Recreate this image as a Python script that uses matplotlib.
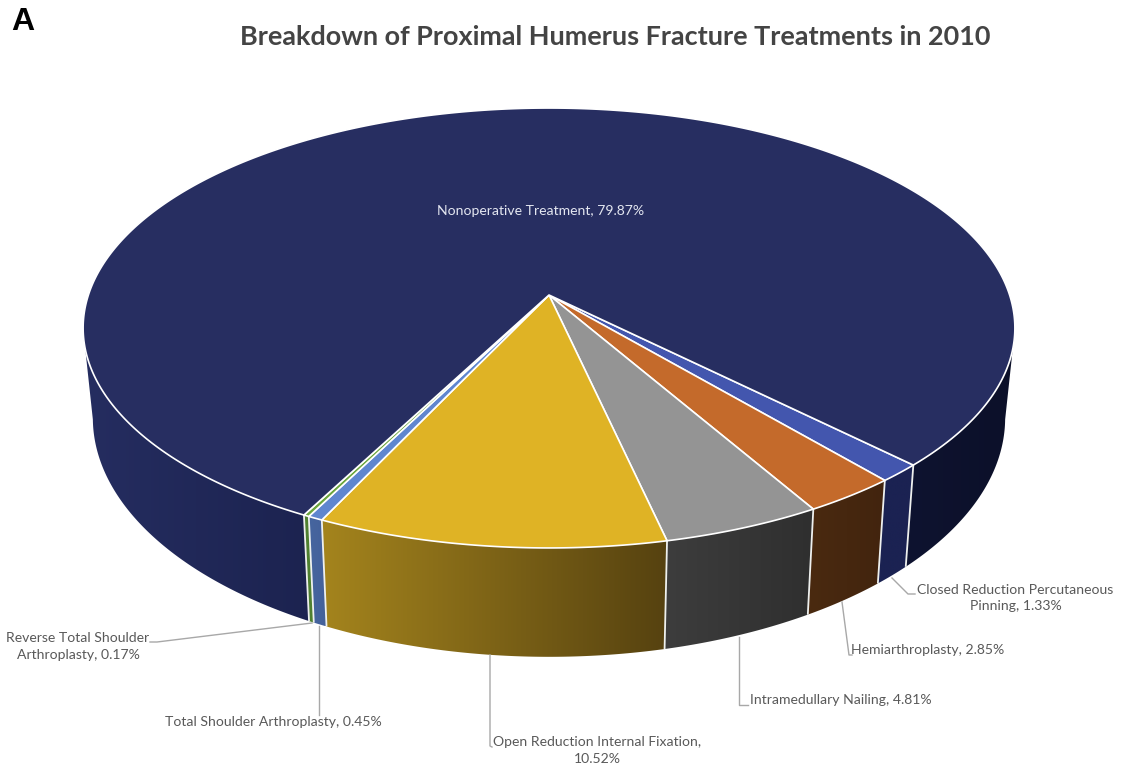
import numpy as np
import matplotlib
matplotlib.use("Agg")
import matplotlib.pyplot as plt
from matplotlib.colors import to_rgb
from matplotlib.patches import Polygon

# Treatment shares in clockwise drawing order
categories = ["Closed Reduction Percutaneous\nPinning", "Hemiarthroplasty",
              "Intramedullary Nailing", "Open Reduction Internal Fixation,\n",
              "Total Shoulder Arthroplasty", "Reverse Total Shoulder\nArthroplasty",
              "Nonoperative Treatment"]
shares = [1.33, 2.85, 4.81, 10.52, 0.45, 0.17, 79.87]

top_colors = ["#4356ae", "#c46a2b", "#949494", "#dfb325", "#5f86cf", "#6ca63c", "#272e61"]
# Side wall shades, left and right end of each slice
wall_left = ["#1b2252", "#4a2a10", "#3d3d3d", "#a4841d", "#46659f", "#4f8030", "#0e1330"]
wall_right = ["#1b2252", "#42240e", "#2f2f2f", "#564210", "#44619a", "#4f8030", "#0c1029"]
nonop_left_wall = ("#252d60", "#1c2350")

label_color = "#595959"
line_color = "#a8a8a8"
FONT = "Lato"

# Projection of the pie disc (pixel space)
START_DEG = 135.0
CX, TOP_CY, TOP_A, TOP_B = 549.0, 295.0, 460.6, 215.0
BOT_CY, BOT_A, BOT_B = 382.0, 451.0, 233.6
PERSP = -0.15
# Angles where the wall silhouette leaves the top rim
FLANK_RIGHT, FLANK_LEFT = 99.0, 261.0


def project(theta_deg, cy, a, b):
    t = np.radians(theta_deg)
    x, y = np.sin(t), np.cos(t) * -1.0
    den = 1.0 + PERSP * y
    return CX + a * x / den, cy + b * y / den


def top(theta):
    return project(theta, TOP_CY, TOP_A, TOP_B)


def bottom(theta):
    return project(theta, BOT_CY, BOT_A, BOT_B)


fig = plt.figure(figsize=(11.22, 7.69), dpi=100, facecolor="white")
ax = fig.add_axes([0, 0, 1, 1])

edges = START_DEG + np.concatenate([[0.0], np.cumsum(shares)]) * 3.6


def wall(t0, t1, left, right):
    """Side wall between two angles, shaded left to right on screen."""
    thetas = np.linspace(t0, t1, max(int(abs(t1 - t0) * 2), 4))
    tx, ty = top(thetas)
    bx, by = bottom(thetas)
    xs = np.r_[tx, bx[::-1]]
    ys = np.r_[ty, by[::-1]]
    patch = Polygon(np.column_stack([xs, ys]), closed=True, facecolor="none", edgecolor="none")
    ax.add_patch(patch)
    ramp = np.linspace(to_rgb(left), to_rgb(right), 128)[None, :, :]
    img = ax.imshow(ramp, extent=[xs.min(), xs.max(), ys.max(), ys.min()], aspect="auto",
                    interpolation="bilinear", zorder=1)
    img.set_clip_path(patch)


# Side walls: the large slice wraps around the back, so it shows on both flanks
wall(FLANK_RIGHT, edges[0], wall_left[6], wall_right[6])
for i in range(6):
    wall(edges[i], edges[i + 1], wall_left[i], wall_right[i])
wall(edges[6], FLANK_LEFT, nonop_left_wall[0], nonop_left_wall[1])

# White separators down the wall
for e in edges[:-1]:
    tx, ty = top(e)
    bx, by = bottom(e)
    ax.plot([tx, bx], [ty, by], color="#eef0ee", lw=1.3, zorder=2, solid_capstyle="butt")

# Top face of the pie
for i, c in enumerate(top_colors):
    arc = np.linspace(edges[i], edges[i + 1], max(int(shares[i] * 12), 6))
    xs, ys = top(arc)
    verts = np.column_stack([np.r_[CX, xs], np.r_[TOP_CY, ys]])
    ax.add_patch(Polygon(verts, closed=True, facecolor=c, edgecolor="white",
                         lw=1.2, joinstyle="round", zorder=3))

# Leader lines
leaders = [
    ([892, 908, 915], [578, 594, 594]),
    ([842, 849, 852], [602, 655, 655]),
    ([739, 739, 748], [637, 705, 705]),
    ([490, 490, 492], [655, 746, 747]),
    ([319, 319], [626, 715]),
    ([312, 157, 150], [623, 642, 642]),
]
for xs, ys in leaders:
    ax.plot(xs, ys, color=line_color, lw=1.0, zorder=4)


def label(i):
    name = categories[i]
    if name.endswith(",\n"):
        return f"{name}{shares[i]:.2f}%"
    return f"{name}, {shares[i]:.2f}%"


LABEL_SIZE = 10.1
anchors = [(1015.5, 598), (928, 649.5), (840.5, 699.5), (597, 750.5), (273, 722.5), (78, 646.5), (541, 211)]
for i, (x, y) in enumerate(anchors):
    ax.text(x, y, label(i), ha="center", va="center", ma="center", fontsize=LABEL_SIZE,
            family=FONT, color="#e3e6f0" if i == 6 else label_color, linespacing=1.45, zorder=5)

ax.text(615.5, 37, "Breakdown of Proximal Humerus Fracture Treatments in 2010", ha="center",
        va="center", fontsize=19.45, fontweight="bold", family=FONT, color="#444444")
ax.text(11, 22, "A", ha="left", va="center", fontsize=23, fontweight="bold",
        family="Liberation Sans", color="black")

ax.set_xlim(0, 1122)
ax.set_ylim(769, 0)
ax.axis("off")

fig.savefig("out.png", dpi=100, facecolor="white")
